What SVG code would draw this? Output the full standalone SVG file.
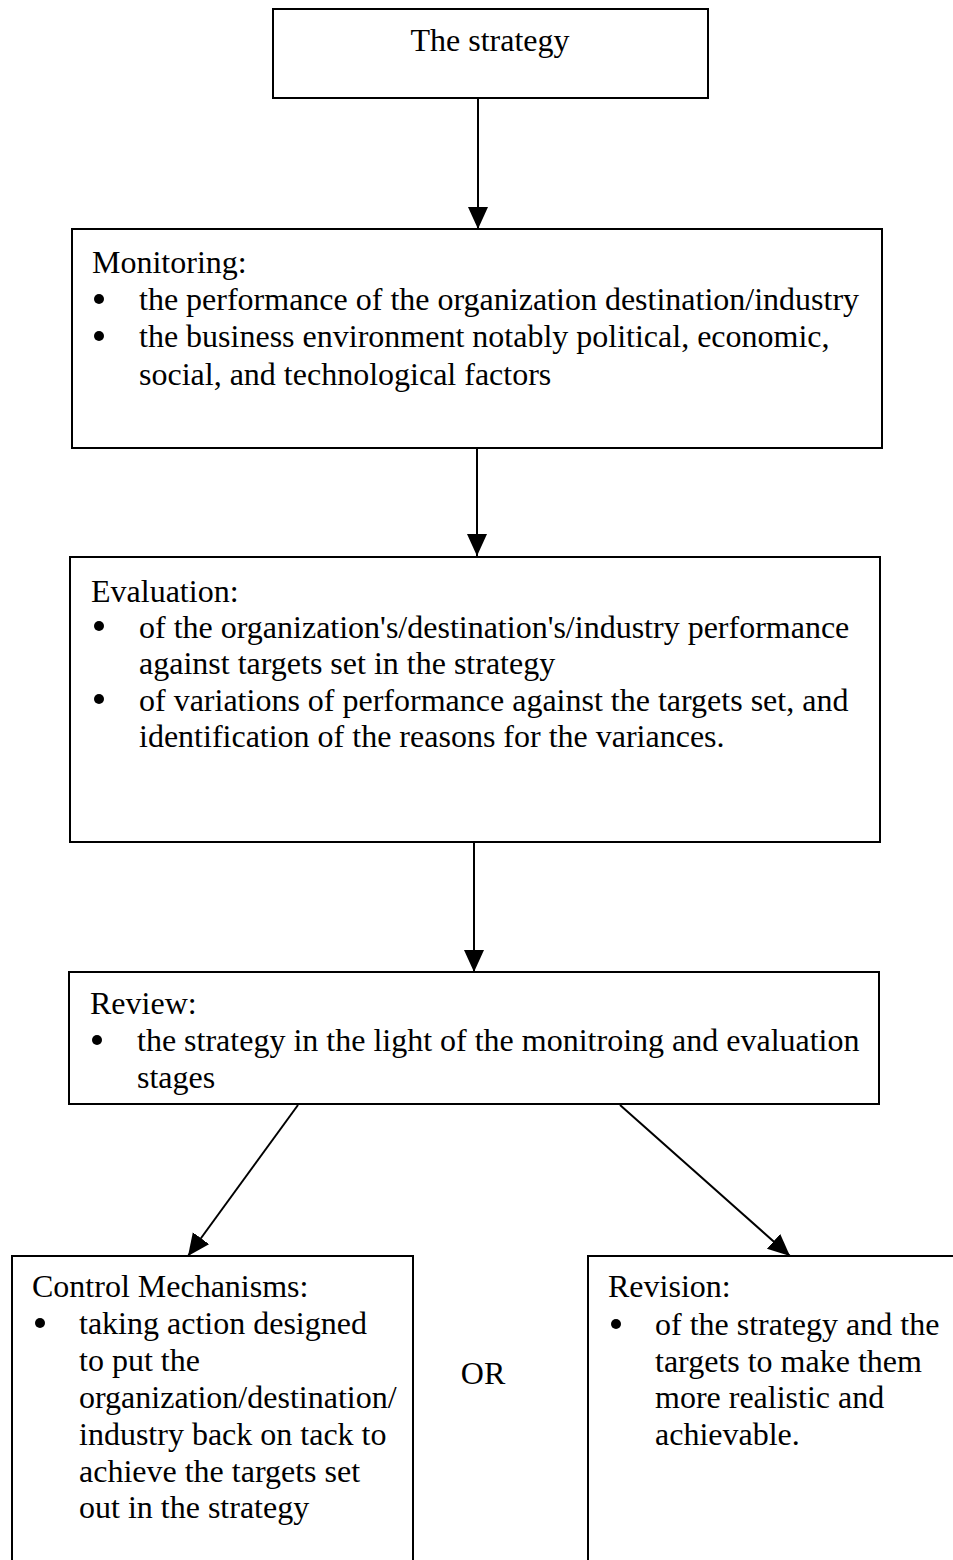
<svg xmlns="http://www.w3.org/2000/svg" width="953" height="1560" viewBox="0 0 953 1560">
<style>
  .box { fill: #ffffff; stroke: #000000; stroke-width: 2; }
  .t { font-family: "Liberation Serif", "Times New Roman", serif; font-size: 32px; fill: #000000; }
  .c { text-anchor: middle; }
  .dot { fill: #000000; }
  .edge { stroke: #000000; stroke-width: 2; fill: none; marker-end: url(#arrow); }
</style>
<defs>
  <marker id="arrow" markerUnits="userSpaceOnUse" markerWidth="24" markerHeight="22" refX="22" refY="10" orient="auto">
    <path d="M0,0 L22,10 L0,20 Z" fill="#000000"/>
  </marker>
</defs>
<rect width="953" height="1560" fill="#ffffff"/>

<g id="connectors">
  <line class="edge" x1="478" y1="98" x2="478" y2="229"/>
  <line class="edge" x1="477" y1="448" x2="477" y2="556"/>
  <line class="edge" x1="474" y1="842" x2="474" y2="972"/>
  <line class="edge" x1="298" y1="1105" x2="188" y2="1256"/>
  <line class="edge" x1="620" y1="1105" x2="790" y2="1256"/>
</g>

<g id="strategy">
  <rect class="box" x="273" y="9" width="435" height="89"/>
  <text class="t c" x="490" y="51">The strategy</text>
</g>

<g id="monitoring">
  <rect class="box" x="72" y="229" width="810" height="219"/>
  <text class="t" x="92" y="273">Monitoring:</text>
  <circle class="dot" cx="99" cy="299" r="5"/>
  <text class="t" x="139" y="310">the performance of the organization destination/industry</text>
  <circle class="dot" cx="99" cy="336" r="5"/>
  <text class="t" x="139" y="347">the business environment notably political, economic,</text>
  <text class="t" x="139" y="385">social, and technological factors</text>
</g>

<g id="evaluation">
  <rect class="box" x="70" y="557" width="810" height="285"/>
  <text class="t" x="91" y="602">Evaluation:</text>
  <circle class="dot" cx="99" cy="626" r="5"/>
  <text class="t" x="139" y="638">of the organization's/destination's/industry performance</text>
  <text class="t" x="139" y="674">against targets set in the strategy</text>
  <circle class="dot" cx="99" cy="699" r="5"/>
  <text class="t" x="139" y="711">of variations of performance against the targets set, and</text>
  <text class="t" x="139" y="747">identification of the reasons for the variances.</text>
</g>

<g id="review">
  <rect class="box" x="69" y="972" width="810" height="132"/>
  <text class="t" x="90" y="1014">Review:</text>
  <circle class="dot" cx="97" cy="1040" r="5"/>
  <text class="t" x="137" y="1051">the strategy in the light of the monitroing and evaluation</text>
  <text class="t" x="137" y="1088">stages</text>
</g>

<g id="control">
  <rect class="box" x="12" y="1256" width="401" height="320"/>
  <text class="t" x="32" y="1297">Control Mechanisms:</text>
  <circle class="dot" cx="40" cy="1323" r="5"/>
  <text class="t" x="79" y="1334">taking action designed</text>
  <text class="t" x="79" y="1371">to put the</text>
  <text class="t" x="79" y="1408">organization/destination/</text>
  <text class="t" x="79" y="1445">industry back on tack to</text>
  <text class="t" x="79" y="1482">achieve the targets set</text>
  <text class="t" x="79" y="1518">out in the strategy</text>
</g>

<g id="or">
  <text class="t c" x="483" y="1384">OR</text>
</g>

<g id="revision">
  <rect class="box" x="588" y="1256" width="380" height="320"/>
  <text class="t" x="608" y="1297">Revision:</text>
  <circle class="dot" cx="616" cy="1324" r="5"/>
  <text class="t" x="655" y="1335">of the strategy and the</text>
  <text class="t" x="655" y="1372">targets to make them</text>
  <text class="t" x="655" y="1408">more realistic and</text>
  <text class="t" x="655" y="1445">achievable.</text>
</g>
</svg>
